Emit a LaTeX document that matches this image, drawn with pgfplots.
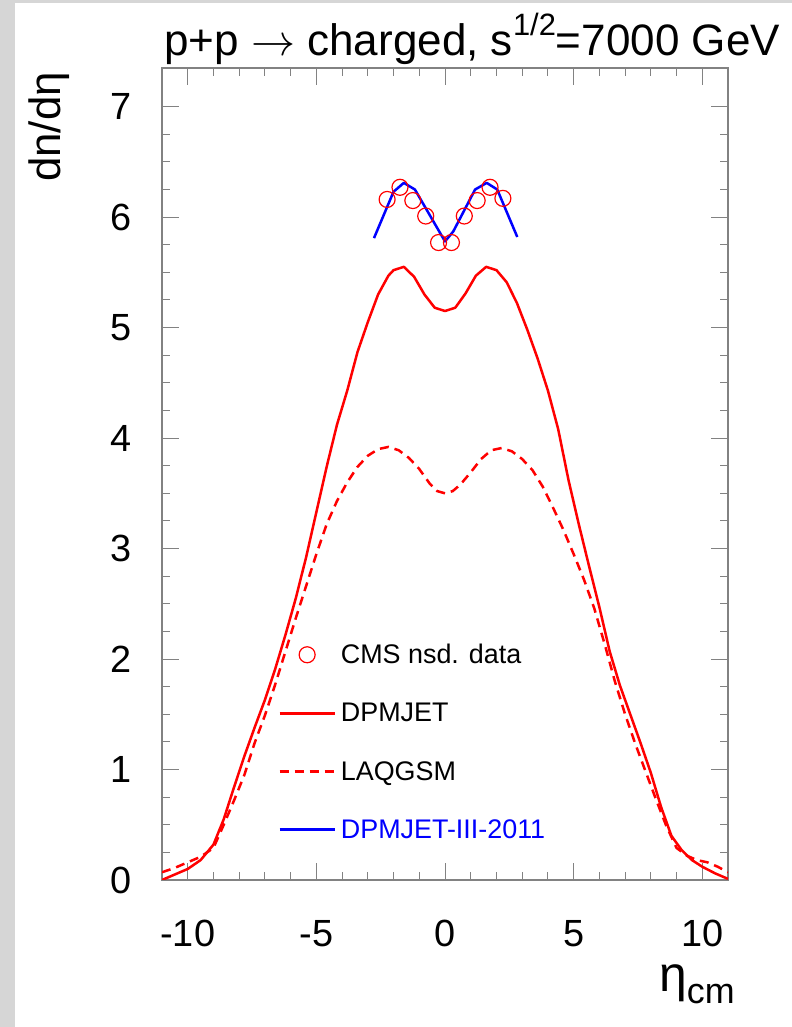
\RequirePackage{fix-cm}
\documentclass[border=0pt]{standalone}
\usepackage{fontspec}
\setmainfont{Liberation Sans}
\usepackage{pgfplots}
\pgfplotsset{compat=1.18}
\definecolor{bggray}{RGB}{214,214,214}
\definecolor{framegray}{RGB}{130,130,130}
\pgfplotsset{
  lineleg/.style={legend image code/.code={\draw[##1] (0bp,0bp) -- (55bp,0bp);}},
  markleg/.style={legend image code/.code={\draw[mark repeat=2,mark phase=2,##1] plot coordinates {(0bp,0bp)(27.5bp,0bp)(55bp,0bp)};}},
}
\begin{document}
\begin{tikzpicture}[x=1bp,y=1bp]
\useasboundingbox (0,0) rectangle (792,1027);
\fill[bggray] (0,0) rectangle (792,1027);
\fill[white] (15,0) rectangle (792,1024);
\begin{axis}[
  at={(162bp,147bp)}, anchor=south west,
  scale only axis, width=566bp, height=812bp,
  xmin=-11, xmax=11, ymin=0, ymax=7.35,
  xtick={-10,-5,0,5,10}, minor x tick num=4,
  ytick={0,1,2,3,4,5,6,7}, minor y tick num=3,
  major tick length=17bp, minor tick length=8bp,
  axis line style={framegray, line width=1.3bp},
  every tick/.style={framegray, line width=1bp},
  tick label style={font=\fontsize{38}{40}\selectfont},
  /pgf/number format/assume math mode=true,
  xticklabel style={anchor=north, inner sep=0pt, yshift=-40bp},
  yticklabel style={anchor=east, inner sep=0pt, xshift=-30bp},
  legend style={at={(0.2,0.293)}, anchor=north west, draw=none, fill=none,
    font=\fontsize{27}{30}\selectfont, row sep=38bp, column sep=5bp, nodes={inner sep=0pt}},
  legend cell align=left,
  lineleg,
]
\addplot[only marks, mark=o, mark size=8bp, mark options={red, line width=1.2bp}, markleg]
coordinates {(-2.25,6.16) (-1.75,6.27) (-1.25,6.15) (-0.75,6.01) (-0.25,5.77)
 (0.25,5.77) (0.75,6.01) (1.25,6.15) (1.75,6.27) (2.25,6.17)};
\addlegendentry{CMS nsd. data}
\addplot[red, line width=2.5bp, line join=round] coordinates {
(-11,0.00) (-10.5,0.05) (-10,0.10) (-9.5,0.18) (-9.0,0.32) (-8.6,0.55) (-8.2,0.84)
(-7.8,1.12) (-7.4,1.38) (-7.0,1.63) (-6.6,1.91) (-6.2,2.22) (-5.8,2.55) (-5.4,2.92)
(-5.0,3.33) (-4.6,3.74) (-4.2,4.12) (-3.8,4.43) (-3.4,4.78) (-3.0,5.05) (-2.6,5.30)
(-2.2,5.47) (-2.0,5.52) (-1.6,5.55) (-1.2,5.46) (-0.8,5.30) (-0.4,5.18) (0.0,5.15)
(0.4,5.18) (0.8,5.31) (1.2,5.47) (1.6,5.55) (2.0,5.52) (2.4,5.41) (2.8,5.22)
(3.2,4.98) (3.6,4.72) (4.0,4.43) (4.4,4.08) (4.8,3.62) (5.2,3.22) (5.6,2.84)
(6.0,2.47) (6.4,2.07) (6.8,1.76) (7.2,1.50) (7.6,1.24) (8.0,0.97) (8.4,0.66)
(8.8,0.40) (9.2,0.27) (9.6,0.18) (10.0,0.12) (10.5,0.06) (11.0,0.01)};
\addlegendentry{DPMJET}
\addplot[red, line width=2.5bp, dash pattern=on 9bp off 6bp] coordinates {
(-11,0.07) (-10.5,0.11) (-10,0.16) (-9.5,0.21) (-9.0,0.29) (-8.6,0.50) (-8.2,0.72)
(-7.8,0.95) (-7.4,1.24) (-7.0,1.49) (-6.6,1.77) (-6.2,2.07) (-5.8,2.37) (-5.4,2.66)
(-5.0,2.95) (-4.6,3.22) (-4.2,3.43) (-3.8,3.60) (-3.4,3.74) (-3.0,3.84) (-2.6,3.90)
(-2.2,3.92) (-1.8,3.89) (-1.4,3.82) (-1.0,3.72) (-0.6,3.59) (-0.3,3.52) (0.0,3.50)
(0.3,3.52) (0.6,3.58) (1.0,3.69) (1.4,3.81) (1.8,3.89) (2.2,3.91) (2.6,3.88)
(3.0,3.81) (3.4,3.71) (3.8,3.56) (4.2,3.37) (4.6,3.17) (5.0,2.95) (5.4,2.72)
(5.8,2.46) (6.2,2.14) (6.6,1.80) (7.0,1.50) (7.4,1.23) (7.8,0.98) (8.2,0.73)
(8.6,0.49) (9.0,0.29) (9.4,0.22) (9.8,0.18) (10.2,0.16) (10.6,0.12) (11.0,0.07)};
\addlegendentry{LAQGSM}
\addplot[blue, line width=2.5bp, line join=round] coordinates {
(-2.76,5.81) (-2.0,6.23) (-1.6,6.31) (-1.17,6.25) (0,5.78) (0.32,5.87)
(1.17,6.25) (1.62,6.31) (2.03,6.25) (2.81,5.82)};
\addlegendentry{\textcolor{blue}{DPMJET-III-2011}}
\end{axis}
\node[anchor=base west, inner sep=0pt, font=\fontsize{44.2}{48}\selectfont] at (164,971)
  {p+p $\rightarrow$ charged, s\raisebox{20bp}{\fontsize{31}{33}\selectfont 1/2}=7000 GeV};
\node[anchor=base west, inner sep=0pt, rotate=90, font=\fontsize{44}{48}\selectfont] at (60,845) {dn/dη};
\node[anchor=base east, inner sep=0pt, font=\fontsize{50}{54}\selectfont] at (735,35)
  {η\raisebox{-12bp}{\fontsize{36}{38}\selectfont cm}};
\end{tikzpicture}
\end{document}
